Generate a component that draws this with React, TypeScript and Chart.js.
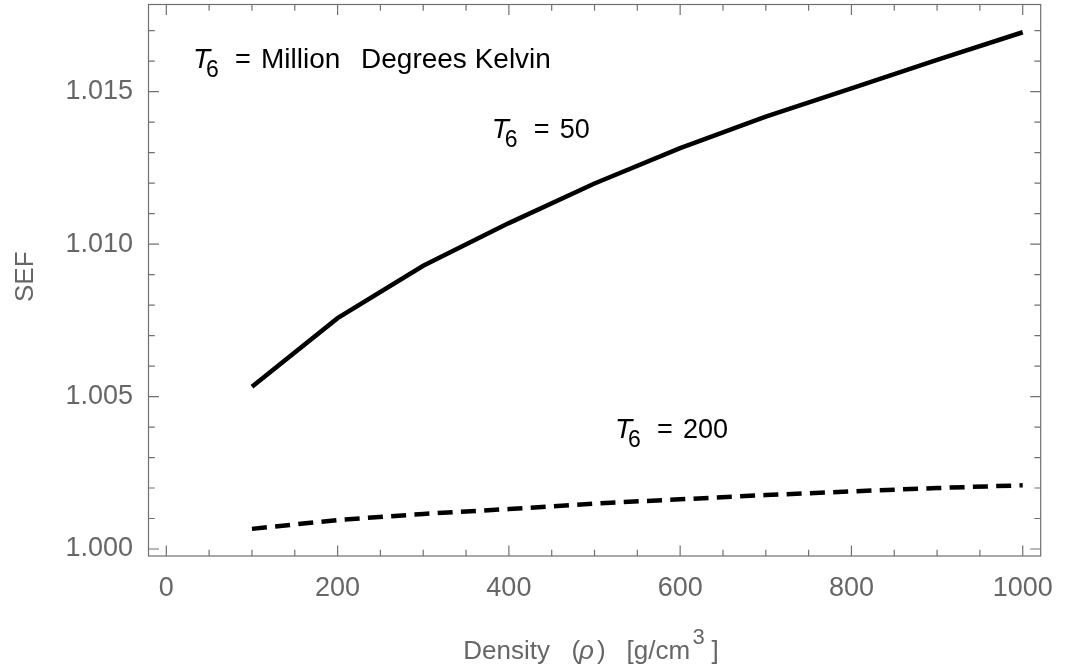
import React, { useEffect, useRef } from "react";
import { Chart, registerables } from "chart.js";

Chart.register(...registerables);

// ---- data ----
const densities = [100, 200, 300, 400, 500, 600, 700, 800, 900, 1000];
const sefT50 = [1.00532, 1.00757, 1.00929, 1.01069, 1.01199, 1.01315, 1.01418, 1.01511, 1.01604, 1.01695];
const sefT200 = [1.00066, 1.00095, 1.00115, 1.00131, 1.00149, 1.00163, 1.00177, 1.00189, 1.002, 1.00209];

const xMajorTicks = [0, 200, 400, 600, 800, 1000];
const yMajorTicks = [1.0, 1.005, 1.01, 1.015];
const xMinorTicks = [50, 100, 150, 250, 300, 350, 450, 500, 550, 650, 700, 750, 850, 900, 950];
const yMinorTicks = [1.001, 1.002, 1.003, 1.004, 1.006, 1.007, 1.008, 1.009, 1.011, 1.012, 1.013, 1.014, 1.016, 1.017];

const xRange = [-20.8, 1021];
const yRange = [0.99977, 1.01786];

// annotation anchors (data coordinates) and texts
const annMainPos = [31.2, 1.01577];
const annMainText = "Million";
const annMainText2 = "Degrees Kelvin";
const annT50Pos = [380, 1.01347];
const annT50Value = "50";
const annT200Pos = [524, 1.00363];
const annT200Value = "200";

const xTitleParts = ["Density", "(", "\u03C1", ")", "[g/cm", "3", "]"];
const yTitle = "SEF";

const FONT = "'Liberation Sans', Arial, Helvetica, sans-serif";
const FRAME = "#707070";
const LABEL = "#666666";

function drawT6(ctx: CanvasRenderingContext2D, x: number, y: number, value: string, size = 27) {
  ctx.fillStyle = "#000";
  ctx.textBaseline = "alphabetic";
  ctx.textAlign = "left";
  ctx.font = `italic 28px ${FONT}`;
  ctx.fillText("T", x, y);
  ctx.font = `23px ${FONT}`;
  ctx.fillText("6", x + 13, y + 8.5);
  ctx.font = `27px ${FONT}`;
  ctx.fillText("=", x + 42, y);
  ctx.font = `${size}px ${FONT}`;
  ctx.fillText(value, x + 68, y);
}

const framePlugin = {
  id: "mmaFrame",
  afterDraw(chart: any) {
    const { ctx, chartArea: a, scales } = chart;
    const xs = scales.x;
    const ys = scales.y;
    ctx.save();
    ctx.strokeStyle = FRAME;
    ctx.lineWidth = 1.2;
    ctx.strokeRect(a.left, a.top, a.right - a.left, a.bottom - a.top);
    ctx.beginPath();
    const xt = (v: number, len: number) => {
      const p = xs.getPixelForValue(v);
      ctx.moveTo(p, a.bottom);
      ctx.lineTo(p, a.bottom - len);
      ctx.moveTo(p, a.top);
      ctx.lineTo(p, a.top + len);
    };
    const yt = (v: number, len: number) => {
      const p = ys.getPixelForValue(v);
      ctx.moveTo(a.left, p);
      ctx.lineTo(a.left + len, p);
      ctx.moveTo(a.right, p);
      ctx.lineTo(a.right - len, p);
    };
    xMajorTicks.forEach((v) => xt(v, 10.5));
    xMinorTicks.forEach((v) => xt(v, 6.3));
    yMajorTicks.forEach((v) => yt(v, 10.5));
    yMinorTicks.forEach((v) => yt(v, 6.3));
    ctx.stroke();

    // axis titles
    ctx.fillStyle = LABEL;
    ctx.textAlign = "left";
    ctx.textBaseline = "alphabetic";
    const by = 659;
    ctx.font = `26px ${FONT}`;
    ctx.fillText(xTitleParts[0], 463.3, by);
    ctx.fillText(xTitleParts[1], 571.5, by);
    ctx.font = `italic 26px ${FONT}`;
    ctx.fillText(xTitleParts[2], 579, by);
    ctx.font = `26px ${FONT}`;
    ctx.fillText(xTitleParts[3], 597, by);
    ctx.fillText(xTitleParts[4], 626.5, by);
    ctx.font = `22px ${FONT}`;
    ctx.fillText(xTitleParts[5], 692.5, 644);
    ctx.font = `26px ${FONT}`;
    ctx.fillText(xTitleParts[6], 711.5, by);

    ctx.save();
    ctx.translate(33.3, 276.7);
    ctx.rotate(-Math.PI / 2);
    ctx.textAlign = "center";
    ctx.font = `26px ${FONT}`;
    ctx.fillText(yTitle, 0, 0);
    ctx.restore();

    // annotations
    const mx = xs.getPixelForValue(annMainPos[0]);
    const my = ys.getPixelForValue(annMainPos[1]);
    drawT6(ctx, mx, my, annMainText, 28);
    ctx.font = `28px ${FONT}`;
    ctx.fillText(annMainText2, mx + 168, my);
    drawT6(ctx, xs.getPixelForValue(annT50Pos[0]), ys.getPixelForValue(annT50Pos[1]), annT50Value);
    drawT6(ctx, xs.getPixelForValue(annT200Pos[0]), ys.getPixelForValue(annT200Pos[1]), annT200Value);
    ctx.restore();
  },
};

export default function App() {
  const ref = useRef<HTMLCanvasElement | null>(null);
  useEffect(() => {
    document.body.style.margin = "0";
    const canvas = ref.current;
    if (!canvas) return;
    const chart = new Chart(canvas, {
      type: "line",
      data: {
        datasets: [
          {
            label: "T6 = 50",
            data: densities.map((d, i) => ({ x: d, y: sefT50[i] })),
            borderColor: "#000",
            borderWidth: 4.5,
            pointRadius: 0,
            tension: 0,
            fill: false,
          },
          {
            label: "T6 = 200",
            data: densities.map((d, i) => ({ x: d, y: sefT200[i] })),
            borderColor: "#000",
            borderWidth: 4.5,
            borderDash: [15, 8.3],
            pointRadius: 0,
            tension: 0,
            fill: false,
          },
        ],
      },
      options: {
        responsive: false,
        animation: false,
        events: [],
        layout: { padding: { left: 0, top: 4.5, right: 30.3, bottom: 0 } },
        plugins: { legend: { display: false }, tooltip: { enabled: false } },
        scales: {
          x: {
            type: "linear",
            position: "bottom",
            min: xRange[0],
            max: xRange[1],
            grid: { display: false, drawTicks: false },
            border: { display: false },
            afterBuildTicks: (s: any) => {
              s.ticks = xMajorTicks.map((v) => ({ value: v }));
            },
            afterFit: (s: any) => {
              s.height = 115;
              s.paddingLeft = 0;
              s.paddingRight = 0;
              s.paddingTop = 0;
              s.paddingBottom = 0;
            },
            ticks: {
              color: LABEL,
              font: { family: FONT, size: 27 },
              padding: 16,
              maxRotation: 0,
              autoSkip: false,
              callback: (v: any) => String(v),
            },
          },
          y: {
            type: "linear",
            min: yRange[0],
            max: yRange[1],
            grid: { display: false, drawTicks: false },
            border: { display: false },
            afterBuildTicks: (s: any) => {
              s.ticks = yMajorTicks.map((v) => ({ value: v }));
            },
            afterFit: (s: any) => {
              s.width = 148.5;
              s.paddingLeft = 0;
              s.paddingRight = 0;
              s.paddingTop = 0;
              s.paddingBottom = 0;
            },
            ticks: {
              color: LABEL,
              font: { family: FONT, size: 27 },
              padding: 15.5,
              autoSkip: false,
              callback: (v: any) => Number(v).toFixed(3),
            },
          },
        },
      },
      plugins: [framePlugin],
    } as any);
    return () => chart.destroy();
  }, []);
  return (
    <div style={{ width: 1071, height: 671 }}>
      <canvas ref={ref} width={1071} height={671} style={{ display: "block" }} />
    </div>
  );
}
